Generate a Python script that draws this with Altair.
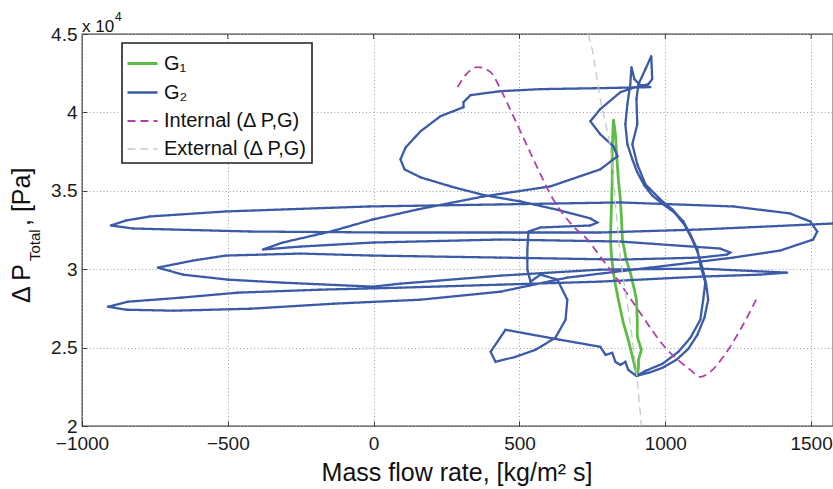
import altair as alt
import pandas as pd

SERIES = ["G₁", "G₂", "Internal (Δ P,G)", "External (Δ P,G)"]
COLORS = ["#5cbc45", "#3b5ba8", "#b23fa9", "#c8c8c8"]

# G1 (green) trajectory
g1_x = [904, 890, 873, 856, 839, 829, 822, 815, 812, 815, 818, 818, 822,
        829, 832, 839, 846, 849, 853, 866, 880, 894, 901, 904, 904, 918, 908, 908, 904]
g1_y = [23133, 24220, 25498, 26585, 28056, 29015, 29782, 30933, 31892, 33811, 35729, 37647, 39565,
        38606, 37647, 35729, 34450, 33491, 31892, 30613, 29782, 28695, 28056, 26777, 25690, 24859, 24220, 23772, 23133]

# G2 (blue) trajectory
g2_x = [1700, 1575, 1120, 777, 435, 31, -425, -825, -901, -849,
        -767, -507, -14, 435, 846, 1233, 1428, 1497, 1521, 1507,
        1394, 1233, 949, 664, 435, 161, -137, -421, -685, -849,
        -911, -842, -661, -466, -182, 92, 435, 777, 1120, 1325,
        1418, 1120, 777, 435, 92, -3, -312, -500, -654, -740,
        -620, -507, -250, -3, 435, 846, 1120, 1212, 1223, 1188,
        846, 435, -3, -250, -380, -312, -147, -3, 151, 377,
        606, 777, 836, 822, 777, 743, 777, 846, 897, 942,
        955, 952, 932, 908, 901, 904, 887, 904, 932, 983,
        1024, 1062, 1086, 1110, 1120, 1137, 1130, 1120, 1086, 1045,
        990, 932, 901, 942, 990, 1038, 1079, 1110, 1134, 1147,
        1140, 1127, 1110, 1089, 1065, 1031, 993, 955, 928, 904,
        887, 870, 863, 870, 880, 884, 894, 914, 949, 777,
        572, 435, 332, 308, 308, 229, 161, 110, 92, 106,
        161, 264, 384, 503, 640, 743, 767, 743, 572, 531,
        527, 527, 538, 572, 630, 664, 658, 623, 555, 486,
        418, 401, 452, 640, 777, 795, 818, 829, 846, 863,
        873, 901]
g2_y = [32980, 32915, 32532, 32340, 32340, 32340, 32404, 32596, 32788, 33107,
        33363, 33683, 34002, 34130, 34258, 34002, 33555, 33043, 32404, 31892,
        31189, 30741, 30102, 29463, 28567, 28056, 27800, 27480, 27353, 27417,
        27608, 27928, 28184, 28504, 28695, 28823, 29015, 29207, 29526, 29654,
        29782, 30038, 29974, 29590, 29079, 28887, 29143, 29335, 29654, 30102,
        30549, 30869, 30997, 30869, 30741, 30613, 30741, 30933, 31061, 31317,
        31764, 31892, 31700, 31445, 31253, 31700, 32404, 33171, 33811, 34642,
        35281, 36368, 37199, 37839, 38606, 39437, 40205, 41291, 41611, 41803,
        42123, 43593, 42762, 41803, 40844, 39245, 37967, 36688, 35409, 34450,
        33811, 33043, 32212, 31253, 30294, 29143, 28056, 26777, 25626, 24731,
        23964, 23516, 23196, 23388, 23708, 24220, 24923, 25818, 26905, 28056,
        29079, 30102, 31125, 32020, 32851, 33619, 34130, 34706, 35345, 36176,
        37007, 37967, 39245, 40524, 41803, 42890, 42123, 41739, 41611, 41547,
        41483, 41355, 41100, 40652, 40332, 39757, 38798, 37775, 37007, 36368,
        35857, 35281, 34706, 34322, 33747, 33235, 32979, 32788, 32660, 32404,
        31253, 29974, 29207, 29654, 29335, 28056, 26777, 25626, 24859, 24411,
        24092, 24731, 26138, 25498, 25051, 24539, 24667, 24092, 23900, 24092,
        23580, 23196]

# Internal characteristic (magenta dashed)
int_x = [288, 315, 356, 401, 435, 479, 548, 616, 685, 733, 777, 836, 890, 1007, 1086, 1120, 1154, 1199, 1257, 1315]
int_y = [41611, 42379, 42890, 42570, 41483, 39757, 37007, 34450, 32724, 31892, 30805, 29335, 27864, 24859, 23580, 23133, 23453, 24412, 26138, 28184]

# External characteristic (grey dashed)
ext_x = [736, 750, 777, 812, 846, 880, 904, 918]
ext_y = [45000, 43977, 40844, 37839, 30613, 26585, 22941, 20000]

X_TICKS = [-1000, -500, 0, 500, 1000, 1500]
Y_TICKS = [20000, 25000, 30000, 35000, 40000, 45000]
TOP_TICKS = [-500, 0, 500, 1000, 1500]

rows = []
for name, xs, ys in [(SERIES[0], g1_x, g1_y), (SERIES[1], g2_x, g2_y),
                     (SERIES[2], int_x, int_y), (SERIES[3], ext_x, ext_y)]:
    assert len(xs) == len(ys), name
    for i, (a, b) in enumerate(zip(xs, ys)):
        rows.append({"series": name, "i": i, "x": a, "y": b})
df = pd.DataFrame(rows)

FONT = "Liberation Sans"
xscale = alt.Scale(domain=[-1000, 1575], nice=False, zero=False)
yscale = alt.Scale(domain=[20000, 45000], nice=False, zero=False)

x_enc = alt.X("x:Q", scale=xscale, title=None,
              axis=alt.Axis(values=X_TICKS, title=None, offset=-5, tickSize=5, labelPadding=8,
                            domain=False, grid=True, gridColor="#a0a0a0", gridDash=[1, 2.5],
                            tickColor="#3c3c3c", labelFontSize=19, labelFont=FONT, format="d",
                            labelColor="#1a1a1a", labelFlush=False))
y_enc = alt.Y("y:Q", scale=yscale, title=None,
              axis=alt.Axis(values=Y_TICKS, title=None, offset=-5, tickSize=5, labelPadding=5,
                            domain=False, grid=True, gridColor="#a0a0a0", gridDash=[1, 2.5],
                            tickColor="#3c3c3c", labelFontSize=19, labelFont=FONT,
                            labelColor="#1a1a1a", labelFlush=False,
                            labelExpr="'' + datum.value / 10000"))

leg = alt.Legend(title=None, orient="none", legendX=40, legendY=9, fillColor="white",
                 strokeColor="#222222", padding=4, rowPadding=2, symbolType="stroke",
                 symbolSize=900, symbolStrokeWidth=2, labelFontSize=20, labelOffset=5,
                 labelFont=FONT, labelColor="#111111", labelLimit=300, cornerRadius=0)
color = alt.Color("series:N", scale=alt.Scale(domain=SERIES, range=COLORS), legend=leg)
dash = alt.StrokeDash("series:N", scale=alt.Scale(domain=SERIES, range=[[1, 0], [1, 0], [8, 5], [8, 5]]),
                      legend=leg)
sw = alt.StrokeWidth("series:N", scale=alt.Scale(domain=SERIES, range=[2.8, 1.3, 2.6, 1.7]), legend=None)


def series_line(k, **kw):
    return (alt.Chart(df).transform_filter(alt.datum.series == SERIES[k])
            .mark_line(clip=True, **kw)
            .encode(x=x_enc, y=y_enc, color=color, strokeDash=dash, strokeWidth=sw, order="i:Q"))


l_g1 = series_line(0)
l_g2 = series_line(1)
p_g2 = (alt.Chart(df).transform_filter(alt.datum.series == SERIES[1])
        .mark_circle(clip=True, size=5, color=COLORS[1], opacity=1)
        .encode(x=x_enc, y=y_enc))
l_int = series_line(2, interpolate="monotone")
l_ext = series_line(3)

top_ticks = (alt.Chart(pd.DataFrame({"t": TOP_TICKS}))
             .mark_rule(color="#3c3c3c", strokeWidth=1)
             .encode(x=alt.X("t:Q", scale=xscale, title=None), y=alt.value(0), y2=alt.value(5)))


def label(s, x, y, size, angle=0, align="left", baseline="alphabetic"):
    return (alt.Chart(pd.DataFrame({"t": [s]}))
            .mark_text(align=align, baseline=baseline, fontSize=size, angle=angle,
                       font=FONT, color="#111111")
            .encode(text="t:N", x=alt.value(x), y=alt.value(y)))


texts = [
    label("Mass flow rate, [kg/m² s]", 375, 447, 25, align="center"),
    label("Δ P", -52, 269, 25, angle=270),
    label("Total", -42, 227, 15, angle=270),
    label(", [Pa]", -52, 192, 25, angle=270),
    label("x 10", 0, -2, 17),
    label("4", 33, -13, 12),
]

chart = (alt.layer(l_g1, l_g2, p_g2, l_int, l_ext, top_ticks, *texts)
         .properties(width=751, height=392,
                     autosize=alt.AutoSizeParams(type="none"),
                     padding={"left": 82, "top": 34, "right": 0, "bottom": 63})
         .configure(font=FONT)
         .configure_legend(strokeWidth=1.6)
         .configure_view(stroke="#3c3c3c", strokeWidth=1.3))

chart.save("out.html", embed_options={"renderer": "svg", "actions": False})
